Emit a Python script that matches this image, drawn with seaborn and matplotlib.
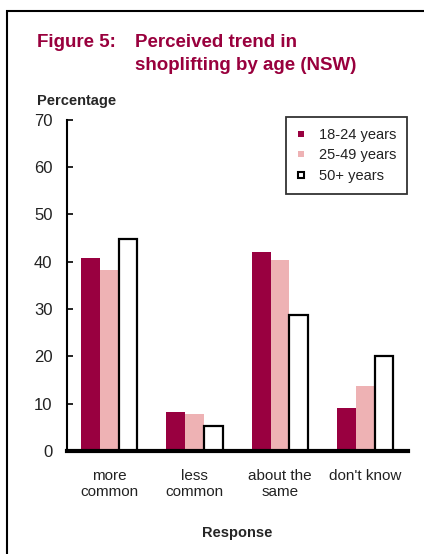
import pandas as pd
import matplotlib.pyplot as plt
import seaborn as sns
from matplotlib.lines import Line2D
from matplotlib.patches import Rectangle

# data
responses = ["more\ncommon", "less\ncommon", "about the\nsame", "don't know"]
age_groups = ["18-24 years", "25-49 years", "50+ years"]
pct_18_24 = [40.7, 8.2, 42.0, 9.1]
pct_25_49 = [38.2, 7.9, 40.3, 13.8]
pct_50_plus = [44.8, 5.3, 28.8, 20.0]

colors = {"18-24 years": "#990040", "25-49 years": "#EEB2B4", "50+ years": "white"}
title_color = "#99003D"

df = pd.DataFrame({
    "response": responses * 3,
    "age": [g for g in age_groups for _ in responses],
    "pct": pct_18_24 + pct_25_49 + pct_50_plus,
})

sns.set_theme(style="white")
plt.rcParams["font.family"] = ["Liberation Sans", "DejaVu Sans"]

W, H = 424, 554
fig = plt.figure(figsize=(W / 100, H / 100), dpi=100)
ax = fig.add_axes([66.5 / W, 1 - 451 / H, (408 - 66.5) / W, (451 - 119.5) / H])

sns.barplot(data=df, x="response", y="pct", hue="age", hue_order=age_groups,
            palette=colors, width=0.66, gap=0, ax=ax, legend=False, saturation=1)

# only the 50+ bars carry an outline
for bar in ax.containers[2]:
    bar.set_edgecolor("black")
    bar.set_linewidth(1.6)
for cont in ax.containers[:2]:
    for bar in cont:
        bar.set_linewidth(0)

ax.set_ylim(0, 70)
ax.set_xlim(-0.5, 3.5)
ax.set_yticks(range(0, 71, 10))
ax.set_xlabel("")
ax.set_ylabel("")
for s in ["top", "right"]:
    ax.spines[s].set_visible(False)
ax.spines["left"].set_linewidth(1.5)
ax.spines["bottom"].set_linewidth(3)
ax.spines["left"].set_color("black")
ax.spines["bottom"].set_color("black")
ax.tick_params(axis="y", left=True, direction="in", length=4, width=1.2, pad=10,
               labelsize=12, color="black")
ax.tick_params(axis="x", bottom=False, length=0, pad=13, labelsize=11)
for lab in ax.get_yticklabels() + ax.get_xticklabels():
    lab.set_color("#222222")

handles = [
    Line2D([], [], marker="s", linestyle="none", markersize=5,
           markerfacecolor=colors[g], markeredgecolor="black" if g == "50+ years" else colors[g],
           markeredgewidth=1.5 if g == "50+ years" else 0, label=g)
    for g in age_groups
]
leg = ax.legend(handles=handles, loc="upper right", bbox_to_anchor=(407 / W, 1 - 117 / H),
                bbox_transform=fig.transFigure, borderaxespad=0, fancybox=False,
                frameon=True, edgecolor="black", handlelength=0.6, handletextpad=0.9,
                borderpad=0.75, labelspacing=0.45, prop={"size": 10.5})
leg.get_frame().set_linewidth(1.3)
for t in leg.get_texts():
    t.set_color("#222222")

# titles and labels
fig.text(37 / W, 1 - 34 / H, "Figure 5:", color=title_color, fontsize=13.5,
         fontweight="bold", va="top", ha="left")
fig.text(135 / W, 1 - 34 / H, "Perceived trend in\nshoplifting by age (NSW)",
         color=title_color, fontsize=13.5, fontweight="bold", va="top", ha="left",
         linespacing=1.45)
fig.text(37 / W, 1 - 101 / H, "Percentage", fontsize=10.5, fontweight="bold",
         va="center", ha="left")
fig.text(237 / W, 1 - 533 / H, "Response", fontsize=10.5, fontweight="bold",
         va="center", ha="center")

# outer frame, cropped at the right and bottom
fig.patches.append(Rectangle((7 / W, -0.1), 1.2, 1.1 - 10.5 / H, transform=fig.transFigure,
                             fill=False, edgecolor="black", linewidth=1.5))

fig.savefig("out.png", dpi=100)
